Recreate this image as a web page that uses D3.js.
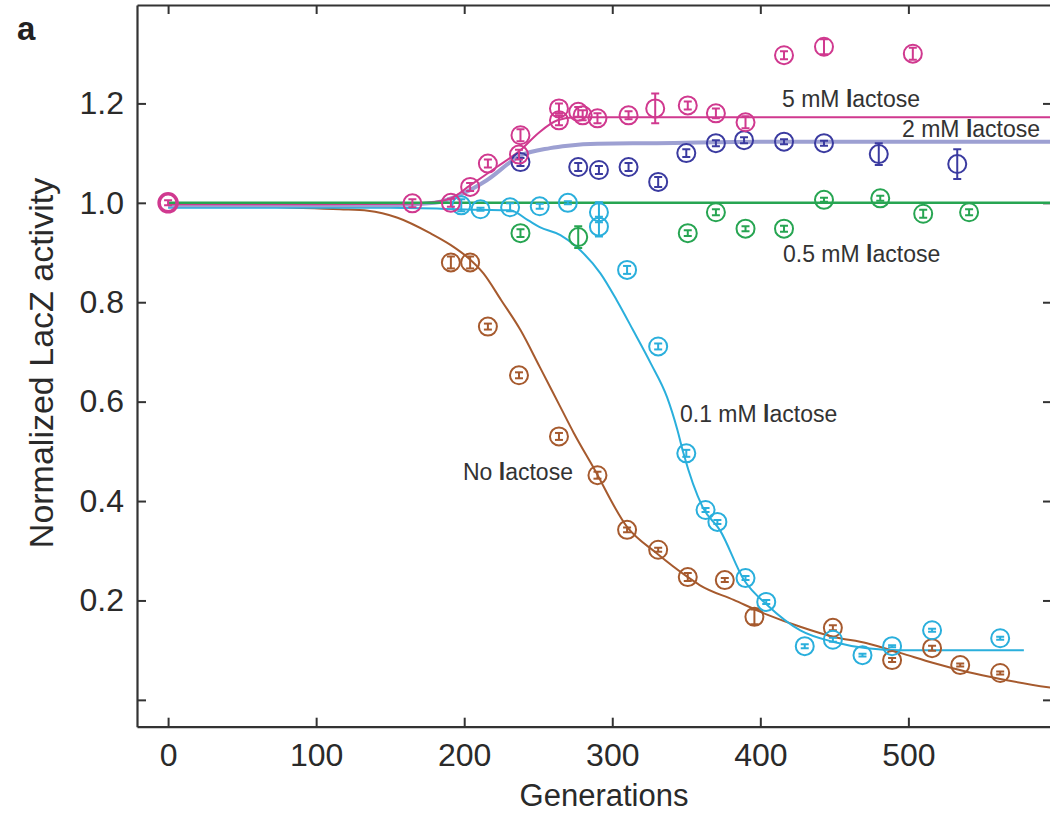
<!DOCTYPE html>
<html>
<head>
<meta charset="utf-8">
<script src="https://cdn.jsdelivr.net/npm/d3@7"></script>
<style>
  body { margin: 0; background: #fff; }
  svg { font-family: "Liberation Sans", Arial, Helvetica, sans-serif; }
</style>
</head>
<body>
<svg id="svg" width="1050" height="816"></svg>
<script>
// DATA
var xTicks = [0, 100, 200, 300, 400, 500];
var yTicks = [0, 0.2, 0.4, 0.6, 0.8, 1.0, 1.2];
var yTickLabels = ["", "0.2", "0.4", "0.6", "0.8", "1.0", "1.2"];

// fitted curves: [generation, normalized activity]
var noLactoseCurve = [[0, 0.997], [40, 0.997], [60, 0.993], [116, 0.987], [135, 0.984], [155, 0.97], [177, 0.939],
  [191, 0.915], [202, 0.891], [213, 0.858], [225, 0.804], [238, 0.744], [251, 0.67], [265, 0.589], [274, 0.537],
  [287, 0.469], [310, 0.348], [330, 0.295], [351, 0.247], [359, 0.231], [382, 0.201], [405, 0.171], [427, 0.147],
  [449, 0.127], [472, 0.114], [495, 0.094], [517, 0.074], [540, 0.056], [562, 0.042], [597, 0.024]];
var lac01Curve = [[0, 0.99], [150, 0.99], [211, 0.986], [231, 0.985], [243, 0.965], [251, 0.951], [265, 0.935],
  [276, 0.911], [292, 0.858], [303, 0.804], [314, 0.744], [326, 0.677], [337, 0.609], [344, 0.543], [348, 0.497],
  [361, 0.388], [373, 0.34], [389, 0.241], [405, 0.19], [427, 0.14], [449, 0.117], [472, 0.104], [495, 0.1], [578, 0.1]];
var lac05Curve = [[0, 1.0], [597, 1.0]];
var lac2Curve = [[0, 0.995], [150, 0.995], [180, 1.0], [200, 1.02], [215, 1.045], [238, 1.095], [258, 1.11],
  [270, 1.115], [290, 1.119], [330, 1.12], [400, 1.123], [597, 1.123]];
var lac5Curve = [[0, 0.997], [100, 0.997], [160, 0.998], [175, 1.0], [191, 1.009], [204, 1.035], [222, 1.072],
  [238, 1.106], [250, 1.14], [263, 1.166], [275, 1.172], [300, 1.172], [597, 1.172]];

// measurements: [generation, activity, error]
var noLactosePts = [[191, 0.88, 0.012], [204, 0.88, 0.012], [216, 0.751, 0.006], [237, 0.653, 0.006],
  [264, 0.53, 0.007], [290, 0.452, 0.007], [310, 0.342, 0.005], [331, 0.302, 0.004], [351, 0.247, 0.008],
  [376, 0.241, 0.004], [396, 0.167, 0.015], [449, 0.145, 0.005], [489, 0.08, 0.004], [516, 0.104, 0.005],
  [535, 0.07, 0.003], [562, 0.054, 0.003]];
var lac01Pts = [[198, 0.995, 0.012], [211, 0.987, 0.003], [231, 0.991, 0.008], [251, 0.993, 0.005],
  [270, 1.0, 0.003], [291, 0.981, 0.02], [291, 0.952, 0.02], [310, 0.865, 0.008], [331, 0.711, 0.006],
  [350, 0.496, 0.007], [363, 0.382, 0.004], [371, 0.358, 0.004], [390, 0.245, 0.004], [404, 0.197, 0.004],
  [430, 0.108, 0.004], [449, 0.121, 0.004], [469, 0.09, 0.003], [489, 0.108, 0.002], [516, 0.14, 0.003],
  [562, 0.124, 0.003]];
var lac05Pts = [[238, 0.939, 0.008], [277, 0.931, 0.022], [351, 0.939, 0.006], [370, 0.981, 0.006],
  [390, 0.948, 0.005], [416, 0.948, 0.006], [443, 1.006, 0.004], [481, 1.009, 0.005], [510, 0.978, 0.008],
  [541, 0.981, 0.006]];
var lac2Pts = [[238, 1.082, 0.008], [277, 1.072, 0.008], [291, 1.066, 0.008], [311, 1.072, 0.008],
  [331, 1.042, 0.01], [350, 1.1, 0.008], [370, 1.12, 0.006], [389, 1.126, 0.006], [416, 1.123, 0.005],
  [443, 1.12, 0.005], [480, 1.098, 0.022], [533, 1.078, 0.03]];
var lac5Pts = [[0, 1.0, 0.005], [165, 0.999, 0.008], [191, 1.0, 0.008], [204, 1.032, 0.008], [216, 1.079, 0.008],
  [237, 1.097, 0.01], [238, 1.136, 0.012], [264, 1.19, 0.01], [264, 1.166, 0.01], [277, 1.183, 0.01],
  [280, 1.176, 0.01], [290, 1.17, 0.01], [311, 1.176, 0.008], [329, 1.19, 0.03], [351, 1.196, 0.008],
  [370, 1.18, 0.01], [390, 1.162, 0.012], [416, 1.297, 0.008], [443, 1.314, 0.015], [503, 1.3, 0.012]];

// SETUP
var svg = d3.select("#svg"),
  margin = { top: 5, right: -2, bottom: 89.3, left: 137 },
  width = 1050 - margin.left - margin.right,
  height = 816 - margin.top - margin.bottom;

var x = d3.scaleLinear().domain([-21, 597]).range([0, width]);
var y = d3.scaleLinear().domain([-0.054, 1.398]).range([height, 0]);

var g = svg.append("g")
  .attr("transform", "translate(" + margin.left + "," + margin.top + ")");

svg.append("defs").append("clipPath").attr("id", "plot")
  .append("rect").attr("width", width).attr("height", height);

var axisColor = "#333";

function styleAxis(sel, showText) {
  sel.attr("font-family", null).attr("font-size", 32);
  sel.select(".domain").attr("stroke", axisColor).attr("stroke-width", 2.2);
  sel.selectAll(".tick line").attr("stroke", axisColor).attr("stroke-width", 2);
  sel.selectAll(".tick text").attr("fill", "#2a2a2a");
  if (!showText) sel.selectAll(".tick text").remove();
}

// bottom / top
g.append("g")
  .attr("transform", "translate(0," + height + ")")
  .call(d3.axisBottom(x).tickValues(xTicks).tickSizeInner(-9).tickSizeOuter(0).tickPadding(17))
  .call(styleAxis, true);
g.append("g")
  .call(d3.axisTop(x).tickValues(xTicks).tickSizeInner(-9).tickSizeOuter(0))
  .call(styleAxis, false);

// left / right
g.append("g")
  .call(d3.axisLeft(y).tickValues(yTicks).tickSizeInner(-9).tickSizeOuter(0).tickPadding(13)
    .tickFormat(function (d, i) { return yTickLabels[i]; }))
  .call(styleAxis, true);
g.append("g")
  .attr("transform", "translate(" + width + ",0)")
  .call(d3.axisRight(y).tickValues(yTicks).tickSizeInner(-9).tickSizeOuter(0))
  .call(styleAxis, false);

// curves
var line = d3.line()
  .x(function (d) { return x(d[0]); })
  .y(function (d) { return y(d[1]); })
  .curve(d3.curveMonotoneX);

var plot = g.append("g").attr("clip-path", "url(#plot)");

var series = [
  { curve: noLactoseCurve, pts: noLactosePts, color: "#a65a2e", lineColor: "#a65a2e", lw: 2 },
  { curve: lac01Curve, pts: lac01Pts, color: "#2aafdc", lineColor: "#2aafdc", lw: 2 },
  { curve: lac2Curve, pts: lac2Pts, color: "#3b3ba0", lineColor: "#9da0d2", lw: 4 },
  { curve: lac5Curve, pts: lac5Pts, color: "#d0398f", lineColor: "#d0398f", lw: 2 },
  { curve: lac05Curve, pts: lac05Pts, color: "#27a552", lineColor: "#27a552", lw: 2.5 }
];

series.forEach(function (s) {
  plot.append("path")
    .datum(s.curve)
    .attr("fill", "none")
    .attr("stroke", s.lineColor)
    .attr("stroke-width", s.lw)
    .attr("d", line);
});

// points with error bars
var ptsOrder = [series[0], series[1], series[4], series[2], series[3]];
ptsOrder.forEach(function (s) {
  var pg = plot.append("g").selectAll(".pt")
    .data(s.pts)
    .enter().append("g")
    .attr("class", "pt")
    .attr("stroke", s.color)
    .attr("fill", "none")
    .attr("stroke-width", 2);

  pg.append("circle")
    .attr("cx", function (d) { return x(d[0]); })
    .attr("cy", function (d) { return y(d[1]); })
    .attr("r", 9)
    .attr("stroke-width", function (d) { return d[0] === 0 ? 3.5 : 2; });

  pg.append("line")
    .attr("x1", function (d) { return x(d[0]); })
    .attr("x2", function (d) { return x(d[0]); })
    .attr("y1", function (d) { return y(d[1] - d[2]); })
    .attr("y2", function (d) { return y(d[1] + d[2]); });

  [1, -1].forEach(function (sgn) {
    pg.append("line")
      .attr("x1", function (d) { return x(d[0]) - 4; })
      .attr("x2", function (d) { return x(d[0]) + 4; })
      .attr("y1", function (d) { return y(d[1] + sgn * d[2]); })
      .attr("y2", function (d) { return y(d[1] + sgn * d[2]); });
  });
});

// labels on curves
function label(txt1, txt2, px, py) {
  var t = svg.append("text")
    .attr("x", px).attr("y", py)
    .attr("font-size", 23)
    .attr("fill", "#333");
  t.append("tspan").text(txt1);
  t.append("tspan").attr("font-weight", "bold").text("l");
  t.append("tspan").text(txt2);
}
label("5 mM ", "actose", 782, 107);
label("2 mM ", "actose", 902, 137);
label("0.5 mM ", "actose", 783, 262);
label("0.1 mM ", "actose", 680, 422);
label("No ", "actose", 463, 480);

// axis titles
svg.append("text")
  .attr("transform", "translate(53,363) rotate(-90)")
  .attr("text-anchor", "middle")
  .attr("font-size", 34)
  .attr("fill", "#2a2a2a")
  .text("Normalized LacZ activity");

svg.append("text")
  .attr("x", 604).attr("y", 806)
  .attr("text-anchor", "middle")
  .attr("font-size", 31)
  .attr("fill", "#2a2a2a")
  .text("Generations");

svg.append("text")
  .attr("x", 17).attr("y", 40)
  .attr("font-size", 33)
  .attr("font-weight", "bold")
  .attr("fill", "#222")
  .text("a");
</script>
</body>
</html>
